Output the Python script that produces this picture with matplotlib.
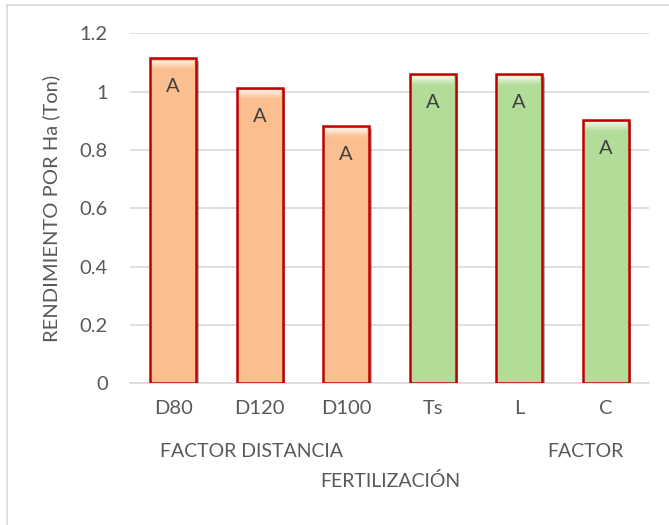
import numpy as np
import matplotlib.pyplot as plt
import matplotlib.patheffects as pe
from matplotlib.lines import Line2D

plt.rcParams['font.family'] = ['Lato', 'DejaVu Sans']

# rendimiento por tratamiento
categorias = ['D80', 'D120', 'D100', 'Ts', 'L', 'C']
rendimiento = [1.114, 1.013, 0.882, 1.060, 1.060, 0.903]
letras = ['A', 'A', 'A', 'A', 'A', 'A']
grupos = ['dist', 'dist', 'dist', 'fert', 'fert', 'fert']
yticks = [0, 0.2, 0.4, 0.6, 0.8, 1.0, 1.2]
ytick_labels = ['0', '0.2', '0.4', '0.6', '0.8', '1', '1.2']

relleno = {'dist': '#FBBE8E', 'fert': '#B4DC99'}
brillo = {'dist': '#FFF3E8', 'fert': '#F0FAE8'}
gris = '#595959'

fig = plt.figure(figsize=(6.69, 5.25), dpi=100)
ax = fig.add_axes([0.1943, 0.2699, 0.7758, 0.6667])

# marco exterior (solo borde superior e izquierdo quedan dentro)
fig.add_artist(Line2D([0.0105, 1.0], [0.9905, 0.9905], transform=fig.transFigure,
                      color='#D9D9D9', linewidth=1.2))
fig.add_artist(Line2D([0.0105, 0.0105], [0.0, 0.9905], transform=fig.transFigure,
                      color='#D9D9D9', linewidth=1.2))

x = np.arange(len(categorias))
ancho = 0.53
sombra = [pe.SimplePatchShadow(offset=(2, -2), shadow_rgbFace='#000000', alpha=0.3), pe.Normal()]
for i, v in enumerate(rendimiento):
    g = grupos[i]
    b = ax.bar(x[i], v, width=ancho, color=relleno[g], edgecolor='#C00000',
               linewidth=1.8, zorder=3)
    b[0].set_path_effects(sombra)
    # bisel superior: franjas claras que se funden con el relleno
    for k, a in enumerate([0.85, 0.6, 0.35, 0.15]):
        ax.bar(x[i], 0.0075, bottom=v - 0.008 - 0.0075 * (k + 1), width=ancho - 0.04,
               color=brillo[g], linewidth=0, zorder=4, alpha=a)
    ax.text(x[i], v - 0.097, letras[i], ha='center', va='center', fontsize=14.5,
            color='#404040', zorder=5)

ax.set_xlim(-0.5, len(categorias) - 0.5)
ax.set_ylim(0, 1.2)
ax.set_yticks(yticks)
ax.set_yticklabels(ytick_labels)
ax.set_xticks(x)
ax.set_xticklabels(categorias)
ax.tick_params(axis='both', length=0, labelsize=14.5, labelcolor=gris)
ax.tick_params(axis='y', pad=16)
ax.tick_params(axis='x', pad=12)
ax.grid(axis='y', color='#D9D9D9', linewidth=1.2, zorder=0)
for s in ['top', 'right', 'left']:
    ax.spines[s].set_visible(False)
ax.spines['bottom'].set_color('#D9D9D9')
ax.spines['bottom'].set_linewidth(1.2)

ax.set_ylabel('RENDIMIENTO POR Ha (Ton)', fontsize=14.5, color=gris)
ax.yaxis.set_label_coords(-0.135, 0.5)

# etiquetas de los factores
tr = ax.get_xaxis_transform()
ax.text(0.9, -0.196, 'FACTOR DISTANCIA', transform=tr, ha='center', va='center',
        fontsize=14, color=gris)
ax.text(4.77, -0.196, 'FACTOR', transform=tr, ha='center', va='center',
        fontsize=14, color=gris)
ax.text(2.506, -0.279, 'FERTILIZACIÓN', transform=tr, ha='center', va='center',
        fontsize=14, color=gris)

fig.savefig('out.png', dpi=100)
